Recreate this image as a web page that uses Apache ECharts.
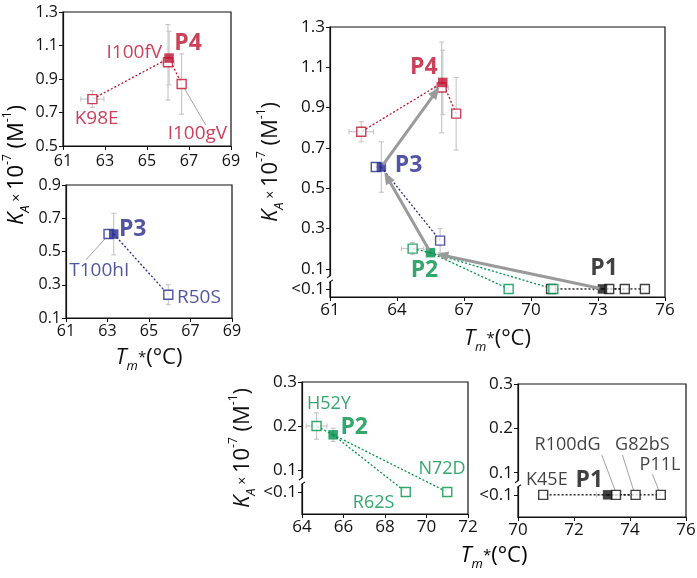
<!DOCTYPE html>
<html><head><meta charset="utf-8">
<script src="https://cdn.jsdelivr.net/npm/echarts@6/dist/echarts.min.js"></script>
<style>html,body{margin:0;padding:0;background:#fff}#c{width:697px;height:578px}</style>
</head><body><div id="c"></div>
<script>
const LOW = '<0.1';
// parents P1..P4 : Tm*, KA, errors
const parentNames = ['P1','P2','P3','P4'];
const parentTm = [73.2, 65.5, 63.3, 66.05];
const parentKa = [LOW, 0.18, 0.605, 1.025];
const parentTmErr = [0.4, 0.15, 0, 0];
const parentKaErr = [0, 0.015, 0.125, 0.16];
// P1 family
const p1Names = ['K45E','R100dG','G82bS','P11L'];
const p1Tm = [70.9, 73.5, 74.2, 75.1];
const p1Ka = [LOW, LOW, LOW, LOW];
const p1TmErr = [0, 0, 0, 0];
const p1KaErr = [0, 0, 0, 0];
// P2 family
const p2Names = ['H52Y','R62S','N72D'];
const p2Tm = [64.7, 69.0, 71.0];
const p2Ka = [0.2, LOW, LOW];
const p2TmErr = [0.5, 0, 0];
const p2KaErr = [0.03, 0, 0];
// P3 family
const p3Names = ['T100hI','R50S'];
const p3Tm = [63.05, 65.93];
const p3Ka = [0.605, 0.24];
const p3TmErr = [0.2, 0];
const p3KaErr = [0, 0.06];
// P4 family
const p4Names = ['K98E','I100fV','I100gV'];
const p4Tm = [62.4, 66.0, 66.65];
const p4Ka = [0.78, 1.0, 0.87];
const p4TmErr = [0.55, 0.3, 0];
const p4KaErr = [0.05, 0.225, 0.18];
// tick labels
const xTicksLeft = [61, 63, 65, 67, 69];
const yTicksP4 = [0.5, 0.7, 0.9, 1.1, 1.3];
const yTicksP3 = [0.1, 0.3, 0.5, 0.7, 0.9];
const xTicksMain = [61, 64, 67, 70, 73, 76];
const yTicksMain = [LOW, 0.1, 0.3, 0.5, 0.7, 0.9, 1.1, 1.3];
const xTicksP2 = [64, 66, 68, 70, 72];
const xTicksP1 = [70, 72, 74, 76];
const yTicksSmall = [LOW, 0.1, 0.2, 0.3];

// ---------- styling / layout ----------
const F = "'Open Sans','Noto Sans',sans-serif";
const INK = '#111111';
const ERR = '#c4c4c4';
const COL = ['#111111', '#00914a', '#262b8c', '#be1230'];
const GRIDS = [
  {left: 63, top: 12, width: 168, height: 134},   // 0 P4
  {left: 66, top: 185, width: 166, height: 133},  // 1 P3
  {left: 330, top: 27, width: 335, height: 270},  // 2 main
  {left: 302, top: 382, width: 166, height: 132}, // 3 P2
  {left: 518, top: 384, width: 168, height: 133}  // 4 P1
];
const LOWPOS = [null, null, 0, 0.05, 0.05];
const XR = [[61, 69], [61, 69], [61, 76], [64, 72], [70, 76]];
const YR = [[0.5, 1.3], [0.1, 0.9], [-0.04, 1.3], [0, 0.3], [0, 0.3]];
const XT = [xTicksLeft, xTicksLeft, xTicksMain, xTicksP2, xTicksP1];
const YT = [yTicksP4, yTicksP3, yTicksMain, yTicksSmall, yTicksSmall];
const TFS = [16, 16, 17, 17, 17];

const yv = (v, g) => v === LOW ? LOWPOS[g] : v;

const famNames = [p1Names, p2Names, p3Names, p4Names];
const famTm = [p1Tm, p2Tm, p3Tm, p4Tm];
const famKa = [p1Ka, p2Ka, p3Ka, p4Ka];
const famTmErr = [p1TmErr, p2TmErr, p3TmErr, p4TmErr];
const famKaErr = [p1KaErr, p2KaErr, p3KaErr, p4KaErr];
const famGrid = [4, 3, 1, 0]; // small panel for each family

const rich = {
  ti: {fontFamily: F, fontStyle: 'italic', fontSize: 22, lineHeight: 30, color: INK},
  n: {fontFamily: F, fontSize: 22, lineHeight: 30, color: INK},
  sb: {fontFamily: F, fontStyle: 'italic', fontSize: 13, lineHeight: 14, verticalAlign: 'bottom', color: INK},
  sp: {fontFamily: F, fontSize: 12, lineHeight: 14, verticalAlign: 'top', color: INK},
  x: {fontFamily: F, fontSize: 14, lineHeight: 30, color: INK},
  st: {fontFamily: F, fontSize: 15, lineHeight: 30, color: INK}
};
const TM_TITLE = '{ti|T}{sb|m}{st|*}{n|(°C)}';
const KA_TITLE = '{ti|K}{sb|A}{x| × }{n|10}{sp|-7}{n| (M}{sp|-1}{n|)}';

const grid = GRIDS.map(g => Object.assign({show: true, borderColor: INK, borderWidth: 1.2,
  backgroundColor: 'transparent', outerBoundsMode: 'none', containLabel: false}, g));

const xAxis = GRIDS.map((g, i) => ({
  type: 'value', gridIndex: i, min: XR[i][0], max: XR[i][1],
  axisLine: {show: true, onZero: false, lineStyle: {color: INK, width: 1.2}},
  axisTick: {show: true, customValues: XT[i], length: 4, lineStyle: {color: INK}},
  axisLabel: {customValues: XT[i], color: INK, fontSize: TFS[i], fontFamily: F, margin: i === 0 ? 7 : 5},
  splitLine: {show: false},
  name: (i === 1 || i === 2) ? TM_TITLE : '', nameLocation: 'middle', nameGap: i === 2 ? 27 : 25,
  nameTextStyle: {rich: rich}
}));
const yAxis = GRIDS.map((g, i) => {
  const vals = YT[i].map(t => yv(t, i));
  return {
    type: 'value', gridIndex: i, min: YR[i][0], max: YR[i][1],
    axisLine: {show: true, onZero: false, lineStyle: {color: INK, width: 1.2}},
    axisTick: {show: true, customValues: vals, length: 4, lineStyle: {color: INK}},
    axisLabel: {customValues: vals, color: INK, fontSize: TFS[i], fontFamily: F, margin: 5,
      formatter: v => (LOWPOS[i] !== null && Math.abs(v - LOWPOS[i]) < 1e-9) ? '<0.1' : v.toFixed(1)},
    splitLine: {show: false},
    name: (i === 2 || i === 3) ? KA_TITLE : '', nameLocation: 'middle', nameRotate: 90,
    nameGap: 44, nameTextStyle: {rich: rich}
  };
});

const series = [];
function errRender(params, api) {
  const x = api.value(0), y = api.value(1), ex = api.value(2), ey = api.value(3);
  const st = {stroke: ERR, lineWidth: 1.1};
  const ch = [];
  const cap = 2.5;
  if (ey > 0) {
    const a = api.coord([x, y - ey]), b = api.coord([x, y + ey]);
    ch.push({type: 'line', shape: {x1: a[0], y1: a[1], x2: b[0], y2: b[1]}, style: st});
    ch.push({type: 'line', shape: {x1: a[0] - cap, y1: a[1], x2: a[0] + cap, y2: a[1]}, style: st});
    ch.push({type: 'line', shape: {x1: b[0] - cap, y1: b[1], x2: b[0] + cap, y2: b[1]}, style: st});
  }
  if (ex > 0) {
    const a = api.coord([x - ex, y]), b = api.coord([x + ex, y]);
    ch.push({type: 'line', shape: {x1: a[0], y1: a[1], x2: b[0], y2: b[1]}, style: st});
    ch.push({type: 'line', shape: {x1: a[0], y1: a[1] - cap, x2: a[0], y2: a[1] + cap}, style: st});
    ch.push({type: 'line', shape: {x1: b[0], y1: b[1] - cap, x2: b[0], y2: b[1] + cap}, style: st});
  }
  return {type: 'group', children: ch};
}

function addFamily(f, g) {
  const c = COL[f];
  const pt = [parentTm[f], yv(parentKa[f], g)];
  const errs = [[pt[0], pt[1], parentTmErr[f], parentKaErr[f]]];
  const muts = [];
  famTm[f].forEach((t, k) => {
    const m = [t, yv(famKa[f][k], g)];
    muts.push(m);
    errs.push([m[0], m[1], famTmErr[f][k], famKaErr[f][k]]);
    series.push({type: 'line', xAxisIndex: g, yAxisIndex: g, data: [pt, m], symbol: 'none',
      lineStyle: {color: c, width: 1.3, type: [2, 2]}, z: 2, silent: true});
  });
  series.push({type: 'custom', xAxisIndex: g, yAxisIndex: g, data: errs, encode: {x: 0, y: 1},
    renderItem: errRender, z: 1, silent: true});
  series.push({type: 'scatter', xAxisIndex: g, yAxisIndex: g, data: muts, symbol: 'rect', symbolSize: 9,
    itemStyle: {color: '#fff', borderColor: c, borderWidth: 1.4}, z: 3, silent: true});
  series.push({type: 'scatter', xAxisIndex: g, yAxisIndex: g, data: [pt], symbol: 'rect', symbolSize: 9.5,
    itemStyle: {color: c}, z: 4, silent: true});
}
for (let f = 0; f < 4; f++) { addFamily(f, famGrid[f]); addFamily(f, 2); }

// arrows between parents in main panel (P1 -> P2 -> P3 -> P4)
const arrowData = [];
for (let f = 0; f < 3; f++) arrowData.push([parentTm[f], yv(parentKa[f], 2), parentTm[f + 1], yv(parentKa[f + 1], 2)]);
series.push({type: 'custom', xAxisIndex: 2, yAxisIndex: 2, data: arrowData, encode: {x: [0, 2], y: [1, 3]}, z: 5, silent: true,
  renderItem: (p, api) => {
    const a = api.coord([api.value(0), api.value(1)]), b = api.coord([api.value(2), api.value(3)]);
    const dx = b[0] - a[0], dy = b[1] - a[1], L = Math.hypot(dx, dy), ux = dx / L, uy = dy / L;
    const s0 = 3, s1 = 6, hl = 12, hw = 5;
    const sx = a[0] + ux * s0, sy = a[1] + uy * s0, tx = b[0] - ux * s1, ty = b[1] - uy * s1;
    const bx = tx - ux * hl, by = ty - uy * hl;
    return {type: 'group', children: [
      {type: 'line', shape: {x1: sx, y1: sy, x2: bx + ux * 2, y2: by + uy * 2}, style: {stroke: '#9a9a9a', lineWidth: 3}},
      {type: 'polygon', shape: {points: [[tx, ty], [bx - uy * hw, by + ux * hw], [bx + uy * hw, by - ux * hw]]}, style: {fill: '#9a9a9a'}}
    ]};
  }});

// ---------- text annotations (grid, text, x, y, colour index, bold, align, size) ----------
const notes = [
  [0, 'I100fV', 65.72, 1.06, 3, false, 'right', 19],
  [0, 'P4', 66.3, 1.115, 3, true, 'left', 23],
  [0, 'K98E', 62.6, 0.665, 3, false, 'center', 19],
  [0, 'I100gV', 67.4, 0.575, 3, false, 'center', 19],
  [1, 'P3', 63.55, 0.63, 2, true, 'left', 23],
  [1, 'T100hI', 62.6, 0.385, 2, false, 'center', 19],
  [1, 'R50S', 66.35, 0.225, 2, false, 'left', 19],
  [2, 'P4', 65.82, 1.1, 3, true, 'right', 23],
  [2, 'P3', 63.9, 0.614, 2, true, 'left', 23],
  [2, 'P2', 65.23, 0.09, 1, true, 'center', 23],
  [2, 'P1', 73.27, 0.1, 0, true, 'center', 23],
  [3, 'H52Y', 65.3, 0.25, 1, false, 'center', 18],
  [3, 'P2', 65.85, 0.196, 1, true, 'left', 23],
  [3, 'R62S', 67.45, 0.025, 1, false, 'center', 18],
  [3, 'N72D', 70.75, 0.102, 1, false, 'center', 18],
  [4, 'K45E', 71.03, 0.083, 0, false, 'center', 18],
  [4, 'P1', 72.55, 0.083, 0, true, 'center', 23],
  [4, 'R100dG', 71.77, 0.162, 0, false, 'center', 18],
  [4, 'G82bS', 74.44, 0.162, 0, false, 'center', 18],
  [4, 'P11L', 75.07, 0.118, 0, false, 'center', 18]
];
for (let g = 0; g < 5; g++) {
  const d = notes.filter(n => n[0] === g).map(n => ({name: n[1], value: [n[2], n[3]],
    label: {color: COL[n[4]], fontWeight: n[5] ? 'bold' : 'normal', align: n[6], fontSize: n[7]}}));
  series.push({type: 'scatter', xAxisIndex: g, yAxisIndex: g, symbolSize: 0, data: d, z: 6, silent: true,
    label: {show: true, position: [0, 0], verticalAlign: 'middle', fontFamily: F, formatter: p => p.name}});
}
// leader lines from mutant squares to their labels (grid, from x,y, to x,y)
const leaders = [
  [0, 66.75, 0.85, 67.8, 0.625],
  [1, 62.98, 0.59, 61.96, 0.45],
  [4, 73.47, 0.06, 72.99, 0.14],
  [4, 74.13, 0.06, 73.73, 0.14],
  [4, 75.03, 0.06, 74.8, 0.097]
];
leaders.forEach(l => series.push({type: 'line', xAxisIndex: l[0], yAxisIndex: l[0], data: [[l[1], l[2]], [l[3], l[4]]],
  symbol: 'none', lineStyle: {color: '#8a8a8a', width: 0.8}, z: 2, silent: true}));

const chart = echarts.init(document.getElementById('c'), null, {renderer: 'canvas'});
chart.setOption({animation: false, backgroundColor: '#fff', grid, xAxis, yAxis, series});

// shared y title for the two left panels, bottom shared x title, axis breaks
const gfx = [];
const pA = chart.convertToPixel({gridIndex: 0}, [61, 1.3]);
const pB = chart.convertToPixel({gridIndex: 1}, [61, 0.1]);
gfx.push({type: 'text', x: 17, y: (pA[1] + pB[1]) / 2, rotation: Math.PI / 2,
  style: {text: KA_TITLE, rich: rich, align: 'center', verticalAlign: 'middle'}});
const q3 = chart.convertToPixel({gridIndex: 3}, [64, 0]);
const q4 = chart.convertToPixel({gridIndex: 4}, [76, 0]);
gfx.push({type: 'text', x: (q3[0] + q4[0]) / 2, y: q3[1] + 42,
  style: {text: TM_TITLE, rich: rich, align: 'center', verticalAlign: 'middle'}});
[[2, 61, 0.05], [3, 64, 0.075], [4, 70, 0.075]].forEach(b => {
  const p = chart.convertToPixel({gridIndex: b[0]}, [b[1], b[2]]);
  const x = p[0], y = p[1];
  gfx.push({type: 'rect', shape: {x: x - 2, y: y - 3, width: 4, height: 6}, style: {fill: '#fff'}, z: 100});
  gfx.push({type: 'polyline', shape: {points: [[x, y - 4], [x, y - 3], [x - 3, y - 1]]}, style: {stroke: INK, lineWidth: 1.1, fill: null}, z: 101});
  gfx.push({type: 'polyline', shape: {points: [[x + 3, y + 1], [x, y + 3], [x, y + 4]]}, style: {stroke: INK, lineWidth: 1.1, fill: null}, z: 101});
});
chart.setOption({graphic: gfx});
</script></body></html>
